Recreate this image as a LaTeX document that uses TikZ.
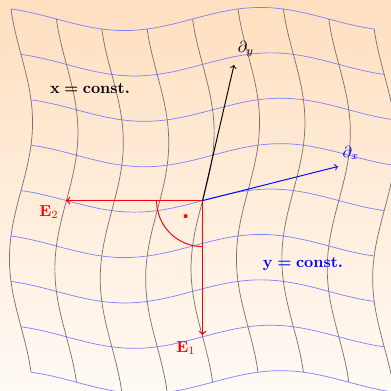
\documentclass[tikz,border=0pt]{standalone}
\usepackage{amsmath}
\usepackage{amsbsy}
\begin{document}
\begin{tikzpicture}[x=0.022026cm, y=-0.022026cm,
  declare function={G(\t)=10+11.55*cos(60*(\t-2.5));},
  gridh/.style={blue!50, line width=0.45pt},
  gridv/.style={black!55, line width=0.45pt},
  vecarrow/.style={->, semithick},
  lbl/.style={inner sep=1pt}]
\useasboundingbox (0,0) rectangle (391,391);
\shade[top color=orange!25, bottom color=orange!4] (0,0) rectangle (391,391);
\begin{scope}
\clip (0,0) rectangle (391,391);
\foreach \j in {0,...,8}{
  \draw[gridh] plot[domain=0:8, samples=60, smooth, variable=\u] ({11+45.4*\u+G(\j)}, {9+45.4*\j+G(\u)});
}
\foreach \i in {0,...,8}{
  \draw[gridv] plot[domain=0:8, samples=60, smooth, variable=\v] ({11+45.4*\i+G(\v)}, {9+45.4*\v+G(\i)});
}
\end{scope}
\coordinate (O) at (202.6,200.6);
\coordinate (dy) at (234,65);
\coordinate (dx) at (338,166.5);
\coordinate (e2) at (66,200.6);
\coordinate (e1) at (202.6,335);
\draw[red, semithick] (O) ++(-46,0) arc[start angle=180, end angle=90, radius=46];
\fill[red] (O) ++(-17,15.5) circle[radius=2];
\draw[vecarrow, red, thick] (O) -- (e2);
\draw[vecarrow, red, thick] (O) -- (e1);
\draw[vecarrow, black] (O) -- (dy);
\draw[vecarrow, blue] (O) -- (dx);
\node[lbl] (ldy) at (246,49) {$\partial_y$};
\node[lbl, blue] (ldx) at (351,153) {$\partial_x$};
\node[lbl, red] (le2) at (49,212) {$\mathbf{E}_2$};
\node[lbl, red] (le1) at (186,348) {$\mathbf{E}_1$};
\node[lbl] (xc) at (90,88) {$\mathbf{x}\mathrel{\boldsymbol{=}}\textbf{const.}$};
\node[lbl, blue] (yc) at (303,264) {$\mathbf{y}\mathrel{\boldsymbol{=}}\textbf{const.}$};
\end{tikzpicture}
\end{document}
